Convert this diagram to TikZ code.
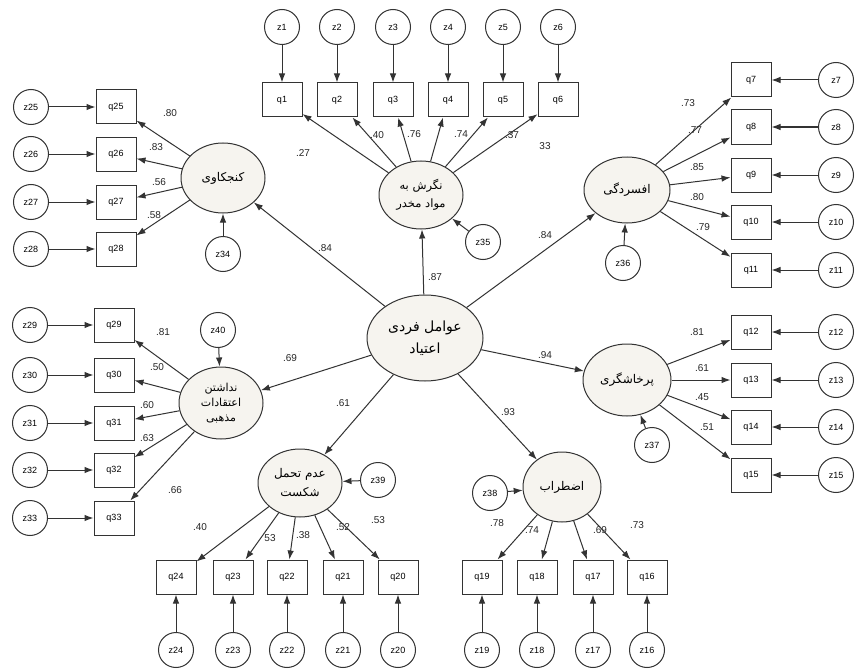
\documentclass[tikz,border=0pt]{standalone}
\usepackage{fontspec}
\setmainfont{Liberation Sans}
\newfontfamily\arabicfont[Script=Arabic]{DejaVu Sans}
\TeXXeTstate=1
\usetikzlibrary{arrows.meta,shapes.geometric}
\definecolor{linec}{HTML}{333333}
\definecolor{latfill}{HTML}{F6F4EF}
\begin{document}
\begin{tikzpicture}[x=1pt,y=-1pt,line width=1pt,
  lat/.style={ellipse,draw=linec,fill=latfill,inner sep=0pt,align=center,
    font=\arabicfont\fontsize{12}{17}\selectfont},
  obs/.style={rectangle,draw=linec,fill=white,minimum width=40pt,minimum height=34pt,inner sep=0pt,
    font=\fontsize{9}{10}\selectfont},
  err/.style={circle,draw=linec,fill=white,minimum size=35pt,inner sep=0pt,
    font=\fontsize{9}{10}\selectfont},
  coef/.style={inner sep=0pt,font=\fontsize{10}{11}\selectfont,text=black!85},
  arr/.style={draw=linec,-{Latex[length=9pt,width=6.5pt]}}]
\fill[white] (0,0) rectangle (855,669);
\useasboundingbox (0,0) rectangle (855,669);

% latent variables
\node[lat,minimum width=116pt,minimum height=86pt,font=\arabicfont\fontsize{14}{22}\selectfont] (cen) at (425,338) {\beginR عوامل فردی\endR\\\beginR اعتیاد\endR};
\node[lat,minimum width=84pt,minimum height=70pt] (cur) at (223,178) {\beginR کنجکاوی\endR};
\node[lat,minimum width=84pt,minimum height=68pt,font=\arabicfont\fontsize{11.5}{18}\selectfont] (att) at (421,195) {\beginR نگرش به\endR\\\beginR مواد مخدر\endR};
\node[lat,minimum width=86pt,minimum height=66pt] (dep) at (627,190) {\beginR افسردگی\endR};
\node[lat,minimum width=84pt,minimum height=72pt,font=\arabicfont\fontsize{11}{15}\selectfont] (rel) at (221,403) {\beginR نداشتن\endR\\\beginR اعتقادات\endR\\\beginR مذهبی\endR};
\node[lat,minimum width=88pt,minimum height=72pt] (agg) at (627,380) {\beginR پرخاشگری\endR};
\node[lat,minimum width=84pt,minimum height=68pt,font=\arabicfont\fontsize{12}{19}\selectfont] (frus) at (300,483) {\beginR عدم تحمل\endR\\\beginR شکست\endR};
\node[lat,minimum width=78pt,minimum height=70pt] (anx) at (562,487) {\beginR اضطراب\endR};

% disturbances of latents
\node[err] (z34) at (223,254) {z34};
\node[err] (z35) at (483,242) {z35};
\node[err] (z36) at (623,263) {z36};
\node[err] (z37) at (652,445) {z37};
\node[err] (z38) at (490,493) {z38};
\node[err] (z39) at (378,480) {z39};
\node[err] (z40) at (218,330) {z40};
\draw[arr] (z34) -- (cur);
\draw[arr] (z35) -- (att);
\draw[arr] (z36) -- (dep);
\draw[arr] (z37) -- (agg);
\draw[arr] (z38) -- (anx);
\draw[arr] (z39) -- (frus);
\draw[arr] (z40) -- (rel);

% structural paths
\draw[arr] (cen) -- (cur);  \node[coef] (s1) at (325,248) {.84};
\draw[arr] (cen) -- (att);  \node[coef] (s2) at (435,277) {.87};
\draw[arr] (cen) -- (dep);  \node[coef] (s3) at (545,235) {.84};
\draw[arr] (cen) -- (rel);  \node[coef] (s4) at (290,358) {.69};
\draw[arr] (cen) -- (frus); \node[coef] (s5) at (343,403) {.61};
\draw[arr] (cen) -- (anx);  \node[coef] (s6) at (508,412) {.93};
\draw[arr] (cen) -- (agg);  \node[coef] (s7) at (545,355) {.94};

% top indicators
\foreach \n/\x/\l/\lx/\ly in {1/282/.27/303/153,2/337/.40/377/135,3/393/.76/414/134,4/448/.74/461/134,5/503/.37/512/135,6/558/33/545/146}{
  \node[obs] (q\n) at (\x,100) {q\n};
  \node[err] (z\n) at (\x,27) {z\n};
  \draw[arr] (z\n) -- (q\n);
  \draw[arr] (att) -- (q\n);
  \node[coef] (c\n) at (\lx,\ly) {\l};
}
% right upper indicators
\foreach \n/\y/\l/\lx/\ly in {7/80/.73/688/103,8/127/.77/695/130,9/175/.85/697/167,10/222/.80/697/197,11/270/.79/703/227}{
  \node[obs] (q\n) at (751,\y) {q\n};
  \node[err] (z\n) at (836,\y) {z\n};
  \draw[arr] (z\n) -- (q\n);
  \draw[arr] (dep) -- (q\n);
  \node[coef] (c\n) at (\lx,\ly) {\l};
}
% right middle indicators
\foreach \n/\y/\l/\lx/\ly in {12/332/.81/697/332,13/380/.61/702/368,14/427/.45/702/397,15/475/.51/707/427}{
  \node[obs] (q\n) at (751,\y) {q\n};
  \node[err] (z\n) at (836,\y) {z\n};
  \draw[arr] (z\n) -- (q\n);
  \draw[arr] (agg) -- (q\n);
  \node[coef] (c\n) at (\lx,\ly) {\l};
}
% bottom right indicators
\foreach \n/\x/\l/\lx/\ly in {19/482/.78/497/523,18/537/.74/532/530,17/593/.69/600/530,16/647/.73/637/525}{
  \node[obs] (q\n) at (\x,577) {q\n};
  \node[err] (z\n) at (\x,650) {z\n};
  \draw[arr] (z\n) -- (q\n);
  \draw[arr] (anx) -- (q\n);
  \node[coef] (c\n) at (\lx,\ly) {\l};
}
% bottom left indicators
\foreach \n/\x/\l/\lx/\ly in {24/176/.40/200/527,23/233/53/270/538,22/287/.38/303/535,21/343/.52/343/527,20/398/.53/378/520}{
  \node[obs] (q\n) at (\x,577) {q\n};
  \node[err] (z\n) at (\x,650) {z\n};
  \draw[arr] (z\n) -- (q\n);
  \draw[arr] (frus) -- (q\n);
  \node[coef] (c\n) at (\lx,\ly) {\l};
}
% left upper indicators
\foreach \n/\y/\l/\lx/\ly in {25/107/.80/170/113,26/154/.83/156/147,27/202/.56/159/182,28/249/.58/154/215}{
  \node[obs] (q\n) at (116,\y) {q\n};
  \node[err] (z\n) at (31,\y) {z\n};
  \draw[arr] (z\n) -- (q\n);
  \draw[arr] (cur) -- (q\n);
  \node[coef] (c\n) at (\lx,\ly) {\l};
}
% left middle indicators
\foreach \n/\y/\l/\lx/\ly in {29/325/.81/163/332,30/375/.50/157/367,31/423/.60/147/405,32/470/.63/147/438,33/518/.66/175/490}{
  \node[obs] (q\n) at (114,\y) {q\n};
  \node[err] (z\n) at (30,\y) {z\n};
  \draw[arr] (z\n) -- (q\n);
  \draw[arr] (rel) -- (q\n);
  \node[coef] (c\n) at (\lx,\ly) {\l};
}
\end{tikzpicture}
\end{document}
